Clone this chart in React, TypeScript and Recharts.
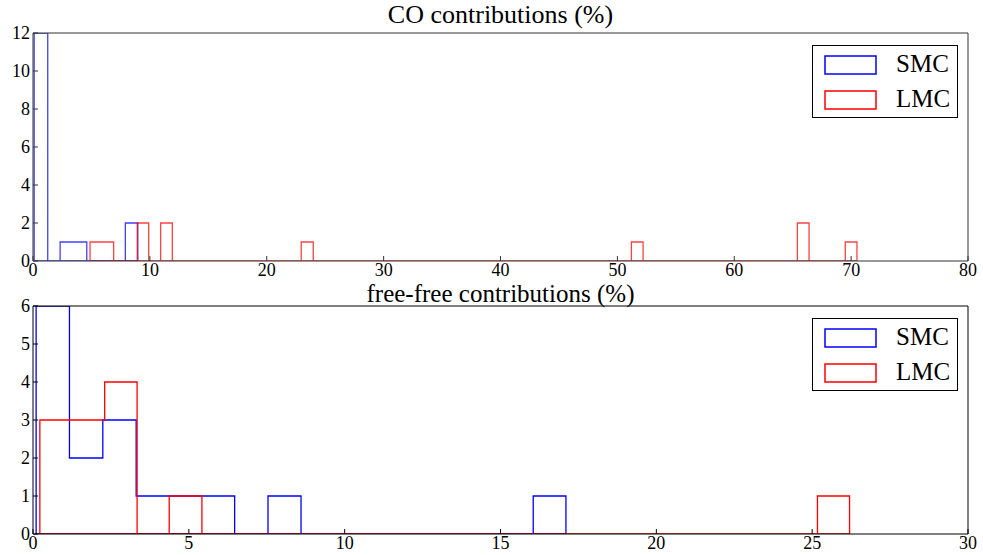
import { ComposedChart, Line, XAxis, YAxis, Legend } from 'recharts';

// histogram outlines: bin edges (%) and counts per run
const coSmcEdges = [0.1, 1.26, 2.32, 4.6, 7.9, 8.97];
const coSmcCounts = [12, 0, 1, 0, 2];
const coLmcEdges = [4.88, 6.9, 8.92, 9.9, 10.92, 11.92, 22.95, 23.98, 51.2, 52.2, 65.4, 66.4, 69.5, 70.5];
const coLmcCounts = [1, 0, 2, 0, 2, 0, 1, 0, 1, 0, 2, 0, 1];

const ffSmcEdges = [0.1, 1.17, 2.24, 3.31, 6.47, 7.54, 8.6, 16.05, 17.1];
const ffSmcCounts = [6, 2, 3, 1, 0, 1, 0, 1];
const ffLmcEdges = [0.22, 2.3, 3.34, 4.37, 5.42, 25.17, 26.2];
const ffLmcCounts = [3, 4, 0, 1, 0, 1];

const seriesNames = ['SMC', 'LMC'];
const seriesColors = ['#0000ff', '#ff0000'];

const coXTicks = [0, 10, 20, 30, 40, 50, 60, 70, 80];
const coYTicks = [0, 2, 4, 6, 8, 10, 12];
const ffXTicks = [0, 5, 10, 15, 20, 25, 30];
const ffYTicks = [0, 1, 2, 3, 4, 5, 6];

const FONT = '"Liberation Serif", "Times New Roman", serif';
const tickStyle = { fill: '#000', fontSize: 18, fontFamily: FONT };

// closed step outline, like matplotlib histtype='step'
function outline(edges: number[], counts: number[]) {
  const pts = [{ x: edges[0], y: 0 }];
  counts.forEach((c, i) => {
    pts.push({ x: edges[i], y: c });
    pts.push({ x: edges[i + 1], y: c });
  });
  pts.push({ x: edges[edges.length - 1], y: 0 });
  pts.push({ x: edges[0], y: 0 });
  return pts;
}

function HistLegend() {
  return (
    <div style={{ width: 146, height: 73, boxSizing: 'border-box', border: '1px solid #000', background: '#fff', position: 'relative', fontFamily: FONT, fontSize: 25, color: '#000' }}>
      {seriesNames.map((name, i) => (
        <div key={name}>
          <svg width={53} height={20} style={{ position: 'absolute', left: 11, top: 9 + i * 35 }}>
            <rect x={1} y={1} width={51} height={18} fill="none" stroke={seriesColors[i]} strokeWidth={1.5} />
          </svg>
          <div style={{ position: 'absolute', left: 83, top: 4 + i * 35, lineHeight: '28px' }}>{name}</div>
        </div>
      ))}
    </div>
  );
}

interface PanelProps {
  top: number;
  height: number;
  marginTop: number;
  xAxisHeight: number;
  xMax: number;
  yMax: number;
  xTicks: number[];
  yTicks: number[];
  smc: { x: number; y: number }[];
  lmc: { x: number; y: number }[];
  title: string;
  titleTop: number;
  titleSize: number;
  opacity: number;
  frame: string;
}

function Panel(p: PanelProps) {
  return (
    <div style={{ position: 'absolute', left: 0, top: p.top, width: 983, height: p.height }}>
      <div style={{ position: 'absolute', left: 0, width: 1001, top: p.titleTop, textAlign: 'center', fontFamily: FONT, fontSize: p.titleSize, lineHeight: '24px', color: '#000', zIndex: 2 }}>
        {p.title}
      </div>
      <ComposedChart width={983} height={p.height} margin={{ top: p.marginTop, right: 14, bottom: 0, left: 0 }}>
        <XAxis dataKey="x" type="number" domain={[0, p.xMax]} ticks={p.xTicks} allowDataOverflow
          height={p.xAxisHeight} tickSize={-5} tickMargin={7} tick={tickStyle}
          axisLine={{ stroke: p.frame }} tickLine={{ stroke: p.frame }} />
        <XAxis xAxisId="top" orientation="top" type="number" domain={[0, p.xMax]} ticks={p.xTicks} allowDataOverflow
          height={1} tickSize={-5} tick={false} axisLine={{ stroke: p.frame }} tickLine={{ stroke: p.frame }} />
        <YAxis type="number" domain={[0, p.yMax]} ticks={p.yTicks} allowDataOverflow width={33}
          tickSize={-5} tickMargin={8} tick={tickStyle} axisLine={{ stroke: p.frame }} tickLine={{ stroke: p.frame }} />
        <YAxis yAxisId="right" orientation="right" type="number" domain={[0, p.yMax]} ticks={p.yTicks} allowDataOverflow
          width={1} tickSize={-5} tick={false} axisLine={{ stroke: p.frame }} tickLine={{ stroke: p.frame }} />
        <Line data={p.smc} dataKey="y" name="SMC" type="linear" stroke={seriesColors[0]} strokeOpacity={p.opacity}
          strokeWidth={1.3} dot={false} activeDot={false} isAnimationActive={false} />
        <Line data={p.lmc} dataKey="y" name="LMC" type="linear" stroke={seriesColors[1]} strokeOpacity={p.opacity}
          strokeWidth={1.3} dot={false} activeDot={false} isAnimationActive={false} />
        <Legend layout="vertical" align="center" verticalAlign="middle" content={() => <HistLegend />}
          wrapperStyle={{ left: 812, top: p.marginTop + 13, width: 146, height: 73 }} />
      </ComposedChart>
    </div>
  );
}

export default function App() {
  return (
    <div style={{ position: 'absolute', left: 0, top: 0, width: 983, height: 555, background: '#fff', overflow: 'hidden' }}>
      <Panel top={0} height={290} marginTop={32} xAxisHeight={29} xMax={80} yMax={12}
        xTicks={coXTicks} yTicks={coYTicks} smc={outline(coSmcEdges, coSmcCounts)} lmc={outline(coLmcEdges, coLmcCounts)}
        title="CO contributions (%)" titleTop={3} titleSize={26} opacity={0.75} frame="#333" />
      <Panel top={283} height={272} marginTop={22} xAxisHeight={21} xMax={30} yMax={6}
        xTicks={ffXTicks} yTicks={ffYTicks} smc={outline(ffSmcEdges, ffSmcCounts)} lmc={outline(ffLmcEdges, ffLmcCounts)}
        title="free-free contributions (%)" titleTop={-1} titleSize={25} opacity={1} frame="#000" />
    </div>
  );
}
